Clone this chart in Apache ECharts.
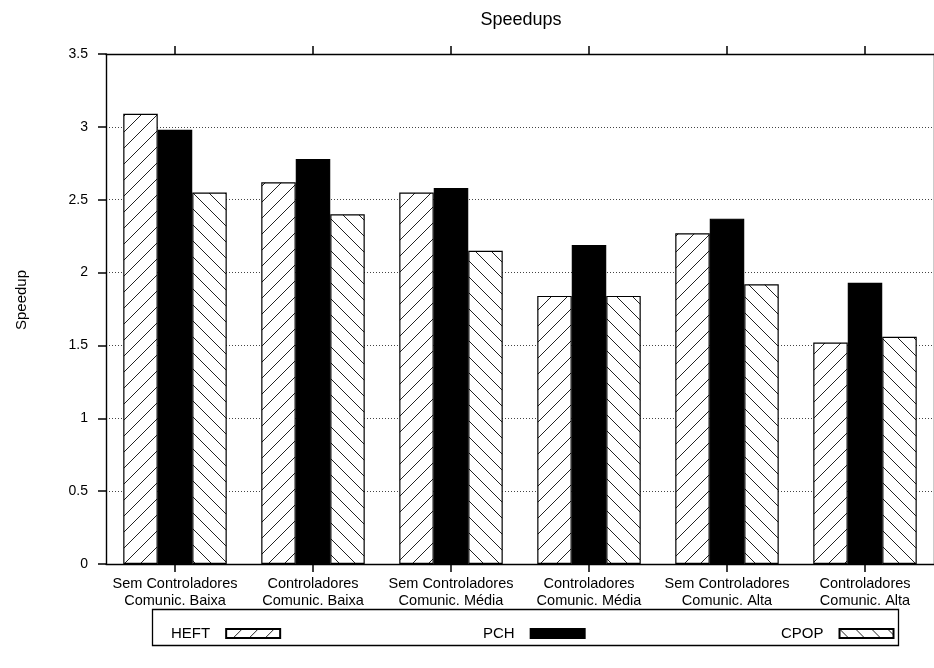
<!DOCTYPE html>
<html>
<head>
<meta charset="utf-8">
<script src="https://cdn.jsdelivr.net/npm/echarts@6/dist/echarts.min.js"></script>
<style>
  html, body { margin: 0; padding: 0; background: #fff; }
  #chart { width: 934px; height: 668px; }
</style>
</head>
<body>
<div id="chart"></div>
<script>
// Categories (two-line labels) and speedup values per scheduler
const categories = [
  'Sem Controladores\nComunic. Baixa',
  'Controladores\nComunic. Baixa',
  'Sem Controladores\nComunic. Média',
  'Controladores\nComunic. Média',
  'Sem Controladores\nComunic. Alta',
  'Controladores\nComunic. Alta'
];
const seriesNames = ['HEFT', 'PCH', 'CPOP'];
const heft = [3.09, 2.62, 2.55, 1.84, 2.27, 1.52];
const pch  = [2.98, 2.78, 2.58, 2.19, 2.37, 1.93];
const cpop = [2.55, 2.40, 2.15, 1.84, 1.92, 1.56];
const yMin = 0, yMax = 3.5, yStep = 0.5;

const FONT = 'Liberation Sans, Arial, Helvetica, sans-serif';

// Diagonal hatch tiles: dir = 1 -> "/", dir = -1 -> "\"
function hatch(dir) {
  const s = 16;
  const c = document.createElement('canvas');
  c.width = s; c.height = s;
  const g = c.getContext('2d');
  g.fillStyle = '#fff';
  g.fillRect(0, 0, s, s);
  g.strokeStyle = '#222';
  g.lineWidth = 1;
  g.beginPath();
  if (dir > 0) {
    g.moveTo(-2, s + 2); g.lineTo(s + 2, -2);
  } else {
    g.moveTo(-2, -2); g.lineTo(s + 2, s + 2);
  }
  g.stroke();
  return c;
}
const fwdPattern = { image: hatch(1), repeat: 'repeat' };
const backPattern = { image: hatch(-1), repeat: 'repeat' };

const grid = { left: 106, top: 54, width: 831, height: 510 };

function barSeries(name, data, fill) {
  return {
    name: name,
    type: 'bar',
    data: data,
    barGap: '0%',
    barCategoryGap: '25%',
    itemStyle: { color: fill, borderColor: '#000', borderWidth: 1.2 },
    emphasis: { disabled: true },
    z: 3
  };
}

function frameLine() {
  return { show: true, onZero: false, lineStyle: { color: '#000', width: 1.4 } };
}
function outTick(extra) {
  return Object.assign({ show: true, inside: false, length: 8, lineStyle: { color: '#000', width: 1.5 } }, extra || {});
}

function legendFor(name, left) {
  return {
    data: [{ name: name, icon: 'rect' }],
    left: left,
    top: 621,
    align: 'right',
    itemWidth: 54,
    itemHeight: 9,
    itemGap: 0,
    selectedMode: false,
    textStyle: { color: '#000', fontSize: 15, fontFamily: FONT, padding: [0, 11, 0, 0] }
  };
}

const chart = echarts.init(document.getElementById('chart'), null, { renderer: 'canvas' });
chart.setOption({
  animation: false,
  backgroundColor: '#fff',
  grid: grid,
  legend: [legendFor('HEFT', 166), legendFor('PCH', 478), legendFor('CPOP', 776)],
  xAxis: [
    {
      type: 'category',
      data: categories,
      position: 'bottom',
      axisLine: frameLine(),
      axisTick: outTick({ alignWithLabel: true }),
      axisLabel: {
        interval: 0, color: '#000', fontSize: 14.5, lineHeight: 17,
        fontFamily: FONT, margin: 11
      },
      splitLine: { show: false }
    },
    {
      type: 'category',
      data: categories,
      position: 'top',
      axisLine: frameLine(),
      axisTick: outTick({ alignWithLabel: true }),
      axisLabel: { show: false },
      splitLine: { show: false }
    }
  ],
  yAxis: [
    {
      type: 'value',
      position: 'left',
      min: yMin, max: yMax, interval: yStep,
      axisLine: frameLine(),
      axisTick: outTick(),
      axisLabel: { color: '#000', fontSize: 14, fontFamily: FONT, margin: 18 },
      splitLine: { show: true, lineStyle: { color: '#444', width: 1, type: [1, 2] } }
    },
    {
      type: 'value',
      position: 'right',
      min: yMin, max: yMax, interval: yStep,
      axisLine: frameLine(),
      axisTick: outTick(),
      axisLabel: { show: false },
      splitLine: { show: false }
    }
  ],
  series: [
    barSeries(seriesNames[0], heft, fwdPattern),
    barSeries(seriesNames[1], pch, '#000'),
    barSeries(seriesNames[2], cpop, backPattern)
  ],
  graphic: [
    {
      type: 'text', x: 521, y: 20,
      style: { text: 'Speedups', font: '18px ' + FONT, fill: '#000', align: 'center', verticalAlign: 'middle' }
    },
    {
      type: 'text', x: 22, y: 300, rotation: Math.PI / 2,
      style: { text: 'Speedup', font: '15px ' + FONT, fill: '#000', align: 'center', verticalAlign: 'middle' }
    },
    {
      type: 'rect', shape: { x: 152.5, y: 609.5, width: 746, height: 36 },
      style: { fill: 'none', stroke: '#000', lineWidth: 1.3 }
    }
  ]
});
</script>
</body>
</html>
